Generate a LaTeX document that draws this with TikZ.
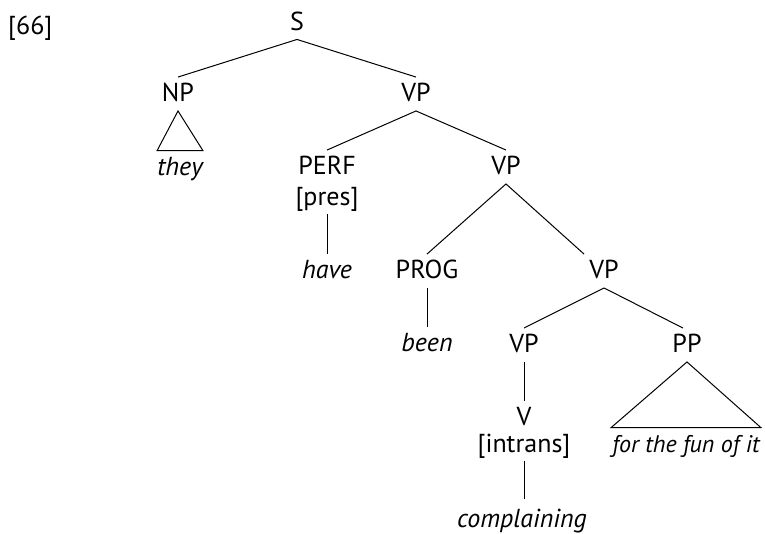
\documentclass[tikz,border=0pt]{standalone}
\usepackage{fontspec}
\setmainfont{PT Sans}
\usepackage{tikz}
\usetikzlibrary{positioning}

\begin{document}
\begin{tikzpicture}[
  x=1pt, y=-1pt,
  cat/.style={font=\fontsize{26}{30}\selectfont, inner xsep=0pt, inner ysep=9pt, text height=15.5pt, text depth=0pt},
  word/.style={cat, font=\fontsize{26}{30}\selectfont\itshape},
  edge/.style={line width=1pt}
]
  \useasboundingbox (0,0) rectangle (765,533);

  \node[cat, anchor=west] (num) at (8,27) {[66]};

  % top levels
  \node[cat] (s) at (297,22.5) {S};
  \node[cat] (np) at (178,94) {NP};
  \node[cat] (vp1) at (416,94) {VP};
  \node[word] (they) at (180,167.5) {they};

  % perfect
  \node[cat] (perf) at (327,167) {PERF};
  \node[cat] (pres) at (327,197.5) {[pres]};
  \node[word] (have) at (327,270.5) {have};
  \node[cat] (vp2) at (506,167) {VP};

  % progressive
  \node[cat] (prog) at (427,271) {PROG};
  \node[word] (been) at (427,343.5) {been};
  \node[cat] (vp3) at (604,271) {VP};

  % lower VP
  \node[cat] (vp4) at (524,345) {VP};
  \node[cat] (pp) at (687,345) {PP};
  \node[cat] (v) at (524,417.5) {V};
  \node[cat] (intrans) at (524,444.5) {[intrans]};
  \node[word] (compl) at (522,519.5) {complaining};
  \node[word, font=\fontsize{24}{28}\selectfont\itshape] (fun) at (686,444.5) {for the fun of it};

  \draw[edge] (s.south) -- (np.north);
  \draw[edge] (s.south) -- (vp1.north);
  \draw[edge] (np.south) -- (they.north west) -- (they.north east) -- cycle;
  \draw[edge] (vp1.south) -- (perf.north);
  \draw[edge] (vp1.south) -- (vp2.north);
  \draw[edge] (pres.south) -- (have.north);
  \draw[edge] (vp2.south) -- (prog.north);
  \draw[edge] (vp2.south) -- ([xshift=-20pt]vp3.north);
  \draw[edge] (prog.south) -- (been.north);
  \draw[edge] (vp3.south) -- (vp4.north);
  \draw[edge] (vp3.south) -- ([xshift=-4pt]pp.north);
  \draw[edge] (vp4.south) -- (v.north);
  \draw[edge] (intrans.south) -- ([xshift=2pt,yshift=4pt]compl.north);
  \draw[edge] (pp.south) -- ([xshift=-1pt]fun.north west) -- ([xshift=1pt]fun.north east) -- cycle;
\end{tikzpicture}
\end{document}
